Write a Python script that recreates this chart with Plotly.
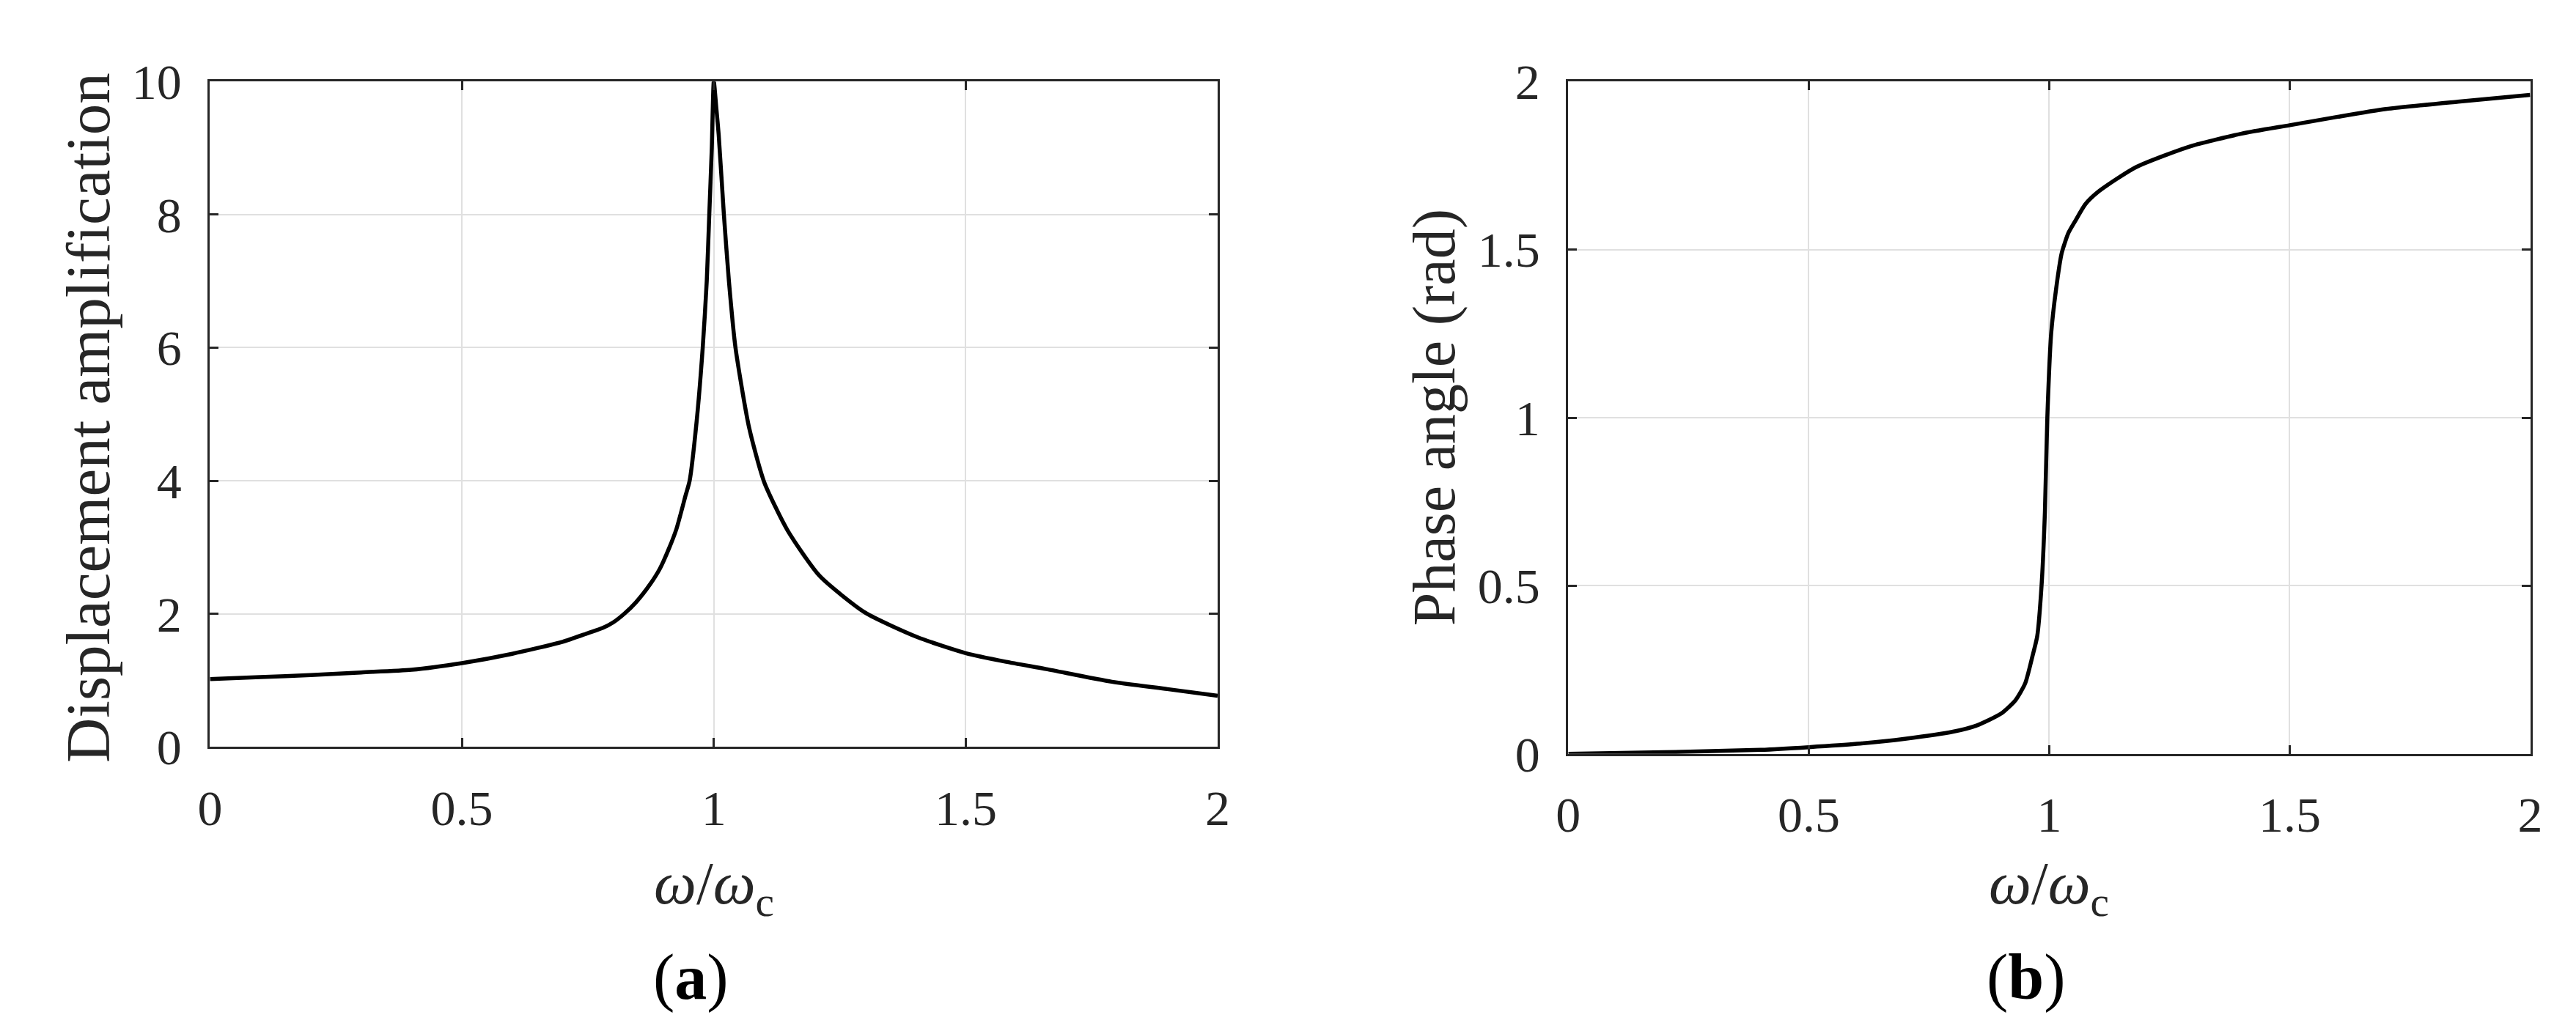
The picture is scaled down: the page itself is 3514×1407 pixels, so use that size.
import plotly.graph_objects as go

# ---- data ----
amp_ratio = [0.0, 0.1, 0.2, 0.3, 0.4, 0.5, 0.6, 0.7, 0.75, 0.78, 0.80, 0.822, 0.845, 0.874,
             0.893, 0.912, 0.926, 0.944, 0.952, 0.966, 0.978, 0.986, 0.991, 0.996, 1.0,
             1.005, 1.0097, 1.02, 1.03, 1.043, 1.07, 1.10, 1.146, 1.21, 1.30, 1.404,
             1.5, 1.58, 1.66, 1.79, 1.9, 2.0]
amp_value = [1.02, 1.05, 1.08, 1.12, 1.16, 1.26, 1.40, 1.58, 1.71, 1.79, 1.87, 2.0, 2.17, 2.45,
             2.68, 3.0, 3.28, 3.78, 4.0, 4.9, 6.0, 7.0, 8.0, 9.0, 10.0,
             9.6, 9.2, 8.0, 7.0, 6.0, 4.8, 3.98, 3.26, 2.57, 2.02, 1.65,
             1.41, 1.28, 1.17, 0.98, 0.87, 0.77]

ph_ratio = [0.0, 0.2, 0.4, 0.5, 0.6, 0.7, 0.8, 0.85, 0.9, 0.93, 0.95, 0.965, 0.975,
            0.984, 0.991, 0.996, 1.004, 1.014, 1.026, 1.04, 1.054, 1.075, 1.10, 1.14,
            1.18, 1.24, 1.3, 1.4, 1.5, 1.6, 1.7, 1.85, 2.0]
ph_value = [0.0, 0.005, 0.012, 0.02, 0.03, 0.045, 0.066, 0.085, 0.12, 0.16, 0.21, 0.29, 0.35,
            0.5, 0.72, 1.0, 1.25, 1.38, 1.49, 1.55, 1.585, 1.635, 1.67, 1.71,
            1.745, 1.78, 1.81, 1.845, 1.87, 1.895, 1.918, 1.94, 1.96]

x_ticks = [0, 0.5, 1, 1.5, 2]
x_ticklabels = ["0", "0.5", "1", "1.5", "2"]
amp_ticks = [0, 2, 4, 6, 8, 10]
ph_ticks = [0, 0.5, 1, 1.5, 2]
ph_ticklabels = ["0", "0.5", "1", "1.5", "2"]

W, H = 3514, 1407
FONT = "Liberation Serif"
AX = "#262626"

fig = go.Figure()
fig.add_trace(go.Scatter(x=amp_ratio, y=amp_value, mode="lines",
                         line=dict(color="black", width=5.5, shape="spline", smoothing=0.6),
                         xaxis="x", yaxis="y", showlegend=False))
fig.add_trace(go.Scatter(x=ph_ratio, y=ph_value, mode="lines",
                         line=dict(color="black", width=5.5, shape="spline", smoothing=0.6),
                         xaxis="x2", yaxis="y2", showlegend=False))

def px_x(p):
    return p / W

def px_y(p):
    return 1 - p / H

common = dict(showline=True, linecolor=AX, linewidth=3, mirror="ticks",
              ticks="inside", ticklen=12, tickwidth=3, tickcolor=AX,
              showgrid=True, gridcolor="#e0e0e0", gridwidth=2, zeroline=False,
              tickfont=dict(family=FONT, size=68, color=AX))

fig.update_layout(
    width=W, height=H, autosize=False,
    margin=dict(l=0, r=0, t=0, b=0),
    paper_bgcolor="white", plot_bgcolor="white",
    xaxis=dict(domain=[px_x(264), px_x(1652)], range=[0, 2], tickvals=x_ticks,
               ticktext=x_ticklabels, anchor="y", ticklabelstandoff=22, **common),
    yaxis=dict(domain=[px_y(1030), px_y(70)], range=[0, 10], tickvals=amp_ticks,
               anchor="x", ticklabelstandoff=22, **common),
    xaxis2=dict(domain=[px_x(2135), px_x(3460)], range=[0, 2], tickvals=x_ticks,
                ticktext=x_ticklabels, anchor="y2", ticklabelstandoff=22, **common),
    yaxis2=dict(domain=[px_y(1040), px_y(70)], range=[0, 2], tickvals=ph_ticks,
                ticktext=ph_ticklabels, anchor="x2", ticklabelstandoff=22, **common),
)

fig.add_annotation(x=px_x(96), y=px_y(555), xref="paper", yref="paper",
                   text="Displacement amplification", textangle=-90, showarrow=False,
                   xanchor="center", yanchor="middle",
                   font=dict(family=FONT, size=85, color=AX))
fig.add_annotation(x=px_x(1950), y=px_y(555), xref="paper", yref="paper",
                   text="Phase angle (rad)", textangle=-90, showarrow=False,
                   xanchor="center", yanchor="middle",
                   font=dict(family=FONT, size=82, color=AX))
xt_font = dict(family=FONT, size=82, color=AX)
fig.add_annotation(x=px_x(958), y=px_y(1233), xref="paper", yref="paper",
                   text="<i>ω</i>/<i>ω</i><sub>c</sub>", showarrow=False,
                   xanchor="center", yanchor="middle", font=xt_font)
fig.add_annotation(x=px_x(2797), y=px_y(1233), xref="paper", yref="paper",
                   text="<i>ω</i>/<i>ω</i><sub>c</sub>", showarrow=False,
                   xanchor="center", yanchor="middle", font=xt_font)
fig.add_annotation(x=px_x(926), y=px_y(1362), xref="paper", yref="paper",
                   text="(<b>a</b>)", showarrow=False,
                   xanchor="center", yanchor="middle",
                   font=dict(family=FONT, size=88, color="black"))
fig.add_annotation(x=px_x(2766), y=px_y(1362), xref="paper", yref="paper",
                   text="(<b>b</b>)", showarrow=False,
                   xanchor="center", yanchor="middle",
                   font=dict(family=FONT, size=88, color="black"))

fig.write_html("out.html")
